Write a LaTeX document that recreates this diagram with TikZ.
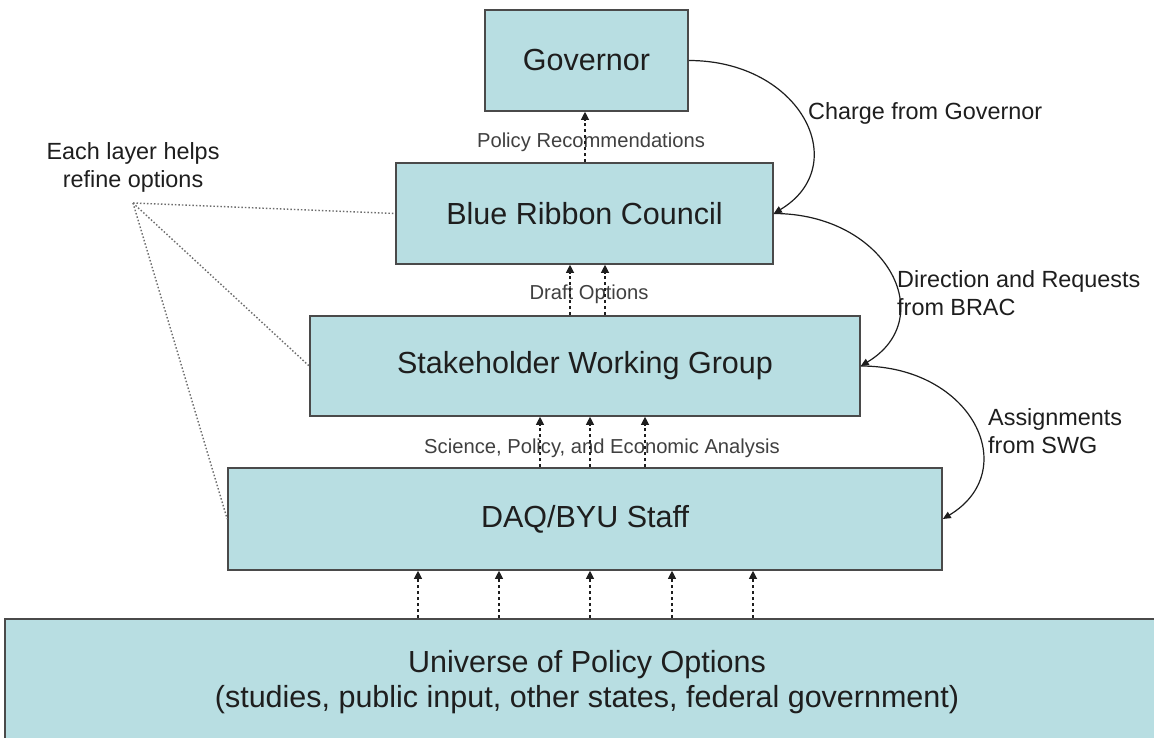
\documentclass[tikz,border=0pt]{standalone}
\usepackage{fontspec}
\setmainfont{Liberation Sans}
\usetikzlibrary{arrows.meta}
\definecolor{boxfill}{HTML}{B8DEE2}
\definecolor{boxline}{HTML}{4A4A4A}
\definecolor{ink}{HTML}{1E1E1E}
\tikzset{
  layer/.style={draw=boxline, line width=1.6pt, fill=boxfill, inner sep=0pt,
    font=\fontsize{30.5}{35}\selectfont, text=ink, align=center},
  flow/.style={-{Triangle[length=8pt,width=8pt]}, line width=1.1pt,
    dash pattern=on 3pt off 3pt, draw=ink},
  link/.style={-{Triangle[length=8pt,width=7pt]}, line width=1.2pt, draw=ink},
  hint/.style={draw=gray!85!black, line width=1.4pt, dash pattern=on 1.5pt off 2pt},
  midlabel/.style={font=\fontsize{20.2}{24}\selectfont, text=ink!85, inner sep=0pt},
  sidelabel/.style={font=\fontsize{23.4}{28}\selectfont, text=ink, inner sep=0pt,
    align=left, anchor=west},
}
\begin{document}
\begin{tikzpicture}[x=1pt,y=-1pt]
\clip (0,0) rectangle (1154,738);
\fill[white] (0,0) rectangle (1154,738);

% the layers, top to bottom
\node[layer, minimum width=203pt, minimum height=101pt] (gov)  at (586.5,60.5) {Governor};
\node[layer, minimum width=377pt, minimum height=101pt] (brc)  at (584.5,213.5) {Blue Ribbon Council};
\node[layer, minimum width=550pt, minimum height=100pt] (swg)  at (585,366) {Stakeholder Working Group};
\node[layer, minimum width=714pt, minimum height=102pt] (daq)  at (585,519) {DAQ/BYU Staff};
\node[layer, minimum width=1164pt, minimum height=126pt] (univ) at (587,682)
  {Universe of Policy Options\\(studies, public input, other states, federal government)};

% labels on the upward flows
\node[midlabel] (lpr)  at (591,142) {Policy Recommendations};
\node[midlabel] (ldo)  at (589,294) {Draft Options};
\node[midlabel] (lsci) at (602,448) {Science, Policy, and Economic Analysis};

% upward flows
\coordinate (p1) at (585,0);
\draw[flow] (brc.north -| p1) -- (gov.south -| p1);
\foreach \x in {570,605}{
  \coordinate (k) at (\x,0);
  \draw[flow] (swg.north -| k) -- (brc.south -| k);
}
\foreach \x in {540,590,645}{
  \coordinate (k) at (\x,0);
  \draw[flow] (daq.north -| k) -- (swg.south -| k);
}
\foreach \x in {418,499,590,672,753}{
  \coordinate (k) at (\x,0);
  \draw[flow] (univ.north -| k) -- (daq.south -| k);
}

% downward requests
\draw[link] (gov.east) .. controls +(112,0) and +(80,-48) .. (brc.east);
\draw[link] (brc.east) .. controls +(112,0) and +(80,-48) .. (swg.east);
\draw[link] (swg.east) .. controls +(112,0) and +(80,-48) .. (daq.east);
\node[sidelabel] (lcharge) at (808,113) {Charge from Governor};
\node[sidelabel] (ldir)    at (897,293) {Direction and Requests\\from BRAC};
\node[sidelabel] (lassign) at (988,431) {Assignments\\from SWG};

% note on refinement
\node[sidelabel, anchor=center, align=center] (lnote) at (133,167) {Each layer helps\\refine options};
\coordinate (hub) at (133,203);
\draw[hint] (hub) -- (brc.west);
\draw[hint] (hub) -- (swg.west);
\draw[hint] (hub) -- (daq.west);
\end{tikzpicture}
\end{document}
